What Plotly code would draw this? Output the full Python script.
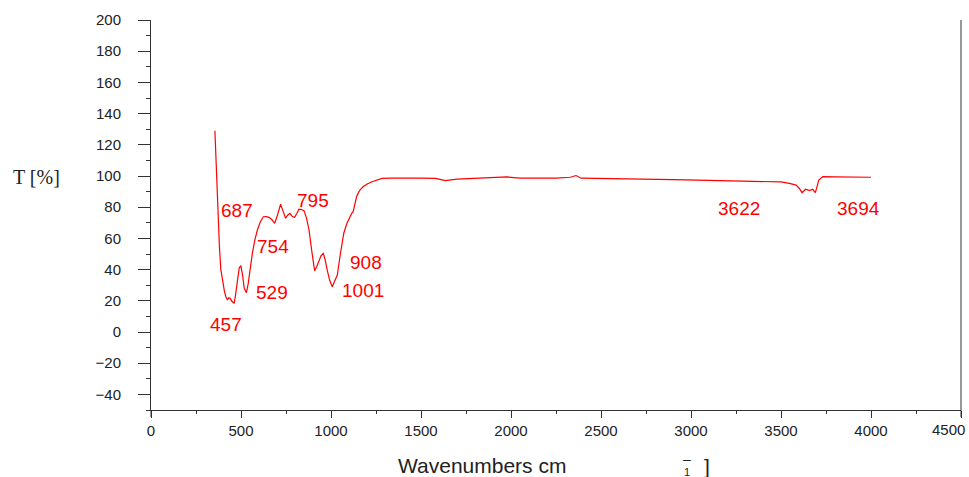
import plotly.graph_objects as go

# Spectrum (wavenumber in cm^-1, transmittance in %)
wavenumber = [355, 362, 370, 373, 380, 388, 395, 401, 408, 416, 425, 432, 440, 447, 453, 462,
              470, 480, 490, 499, 508, 518, 530, 540, 552, 563, 577, 591, 607, 624, 640, 656,
              672, 687, 703, 720, 735, 748, 760, 772, 785, 798, 810, 822, 836, 850, 864, 878,
              893, 909, 921, 933, 945, 957, 968, 979, 993, 1007, 1020, 1035, 1052, 1071, 1088,
              1105, 1115, 1123, 1132, 1142, 1153, 1164, 1180, 1201, 1228, 1256, 1284, 1330,
              1400, 1500, 1580, 1635, 1700, 1800, 1900, 1977, 2050, 2150, 2250, 2330, 2361,
              2390, 2500, 2700, 2900, 3100, 3300, 3500, 3547, 3584, 3602, 3617, 3636, 3658,
              3676, 3691, 3710, 3732, 3800, 3900, 4000]
transmittance = [129, 105, 75, 70, 55, 40, 34, 31, 26, 22.6, 20.5, 22, 21.6, 20, 19.4, 18.4,
                 24, 34, 41, 42.5, 37, 28, 25.2, 31, 42, 50.4, 59, 65.4, 70.5, 73.9, 74, 73.5,
                 72, 69.7, 75, 82, 77, 72.9, 75, 76, 74, 73.5, 76, 78.7, 78.5, 77.8, 73, 65.4,
                 52, 39.3, 42, 46.2, 49, 50.4, 46, 39.7, 33, 29, 32, 36.5, 50, 63.3, 69.5,
                 73.9, 76, 77.1, 81, 86.7, 89.5, 91.5, 93.3, 94.9, 96.3, 97.4, 98.5, 98.7,
                 98.8, 98.7, 98.5, 97, 98, 98.4, 98.7, 99.4, 98.7, 98.8, 98.6, 99.2, 100.3,
                 98.6, 98.5, 98.2, 97.7, 97.2, 96.8, 96.2, 95.3, 94.2, 92, 89.3, 91.5, 90.6,
                 91.5, 89.3, 97.4, 99.6, 99.4, 99.3, 99.2]

# Peak labels
peak_labels = ["687", "754", "795", "529", "457", "908", "1001", "3622", "3694"]

# Axis ticks
x_ticks = [0, 500, 1000, 1500, 2000, 2500, 3000, 3500, 4000, 4500]
x_tick_text = ["0", "500", "1000", "1500", "2000", "2500", "3000", "3500", "4000", "4500"]
y_ticks = [200, 180, 160, 140, 120, 100, 80, 60, 40, 20, 0, -20, -40]
y_tick_text = ["200", "180", "160", "140", "120", "100", "80", "60", "40", "20", "0", "\u221220", "\u221240"]

RED = "#ff0000"
AXIS = "#333333"
TICKFONT = dict(family="Arial, Liberation Sans", size=15, color="#222")

fig = go.Figure()
fig.add_trace(go.Scatter(x=wavenumber, y=transmittance, mode="lines",
                         line=dict(color=RED, width=1.2), showlegend=False, hoverinfo="skip"))

label_pos = [(477, 78.2), (676, 54.8), (898, 84), (673, 25.3), (418, 4.8),
             (1194, 44.6), (1175, 26.9), (3265, 79.2), (3932, 79.2)]
for txt, (px, py) in zip(peak_labels, label_pos):
    fig.add_annotation(x=px, y=py, text=txt, showarrow=False, xref="x", yref="y",
                       font=dict(family="Arial, Liberation Sans", size=19, color=RED))

# last x tick label is drawn shifted inside the canvas, as in the original
shown_text = x_tick_text[:-1] + [""]

fig.update_layout(
    width=969, height=477,
    margin=dict(l=151, r=8, t=20, b=67),
    paper_bgcolor="white", plot_bgcolor="white",
    xaxis=dict(range=[0, 4500], tickvals=x_ticks, ticktext=shown_text,
               showgrid=False, zeroline=False, showline=True, linecolor=AXIS, linewidth=1,
               ticks="outside", ticklen=7, tickcolor=AXIS, tickwidth=1,
               tickfont=TICKFONT,
               minor=dict(dtick=250, ticks="outside", ticklen=3, tickcolor=AXIS, showgrid=False)),
    yaxis=dict(range=[-50, 200], tickvals=y_ticks, ticktext=y_tick_text,
               showgrid=False, zeroline=False, showline=True, linecolor=AXIS, linewidth=1,
               ticks="outside", ticklen=12, tickcolor=AXIS, tickwidth=1,
               ticklabelstandoff=14,
               tickfont=TICKFONT,
               minor=dict(tick0=-50, dtick=10, ticks="outside", ticklen=4, tickcolor=AXIS, showgrid=False)),
)

fig.add_annotation(text=x_tick_text[-1], showarrow=False, xref="paper", yref="paper",
                   x=(967 - 151) / 810, y=(410 - 429) / 390, xanchor="right", yanchor="middle",
                   font=TICKFONT)

# y-axis line extending below the x-axis, and right border
fig.add_shape(type="line", xref="paper", yref="paper", x0=0, x1=0, y0=-7/390, y1=0,
              line=dict(color=AXIS, width=1))
fig.add_shape(type="line", xref="paper", yref="paper", x0=1, x1=1, y0=-7/390, y1=1,
              line=dict(color=AXIS, width=1))

# axis titles
fig.add_annotation(text="T [%]", showarrow=False, xref="paper", yref="paper",
                   x=(36 - 151) / 810, y=(410 - 177) / 390, xanchor="center", yanchor="middle",
                   font=dict(family="Liberation Serif, Times New Roman", size=20, color="#222"))
fig.add_annotation(text="Wavenumbers cm", showarrow=False, xref="paper", yref="paper",
                   x=(482 - 151) / 810, y=(410 - 465) / 390, xanchor="center", yanchor="middle",
                   font=dict(family="Arial, Liberation Sans", size=21, color="#222"))
fig.add_annotation(text="\u2013", showarrow=False, xref="paper", yref="paper",
                   x=(687 - 151) / 810, y=(410 - 459) / 390, xanchor="center", yanchor="middle",
                   font=dict(family="Arial, Liberation Sans", size=14, color="#222"))
fig.add_annotation(text="1", showarrow=False, xref="paper", yref="paper",
                   x=(687 - 151) / 810, y=(410 - 472) / 390, xanchor="center", yanchor="middle",
                   font=dict(family="Arial, Liberation Sans", size=11, color="#222"))
fig.add_annotation(text="]", showarrow=False, xref="paper", yref="paper",
                   x=(707 - 151) / 810, y=(410 - 466) / 390, xanchor="center", yanchor="middle",
                   font=dict(family="Arial, Liberation Sans", size=21, color="#222"))

fig.write_html("out.html")
